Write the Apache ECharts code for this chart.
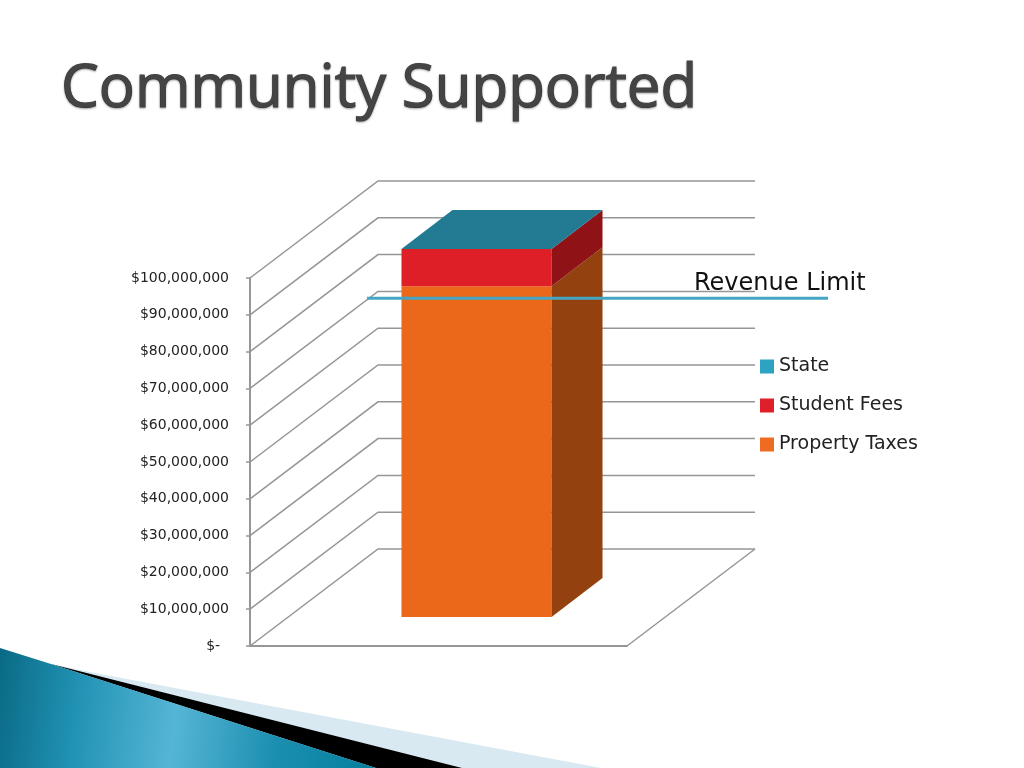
<!DOCTYPE html>
<html>
<head>
<meta charset="utf-8">
<style>html,body{margin:0;padding:0;background:#fff}#c{width:1024px;height:768px}</style>
<script src="https://cdn.jsdelivr.net/npm/echarts@6/dist/echarts.min.js"></script>
</head>
<body>
<div id="c"></div>
<script>
var titleText = 'Community Supported';
var categories = ['Budget'];
var tickValues = [0, 10000000, 20000000, 30000000, 40000000, 50000000, 60000000, 70000000, 80000000, 90000000, 100000000];
var tickLabels = ['$-\u00a0\u00a0', '$10,000,000', '$20,000,000', '$30,000,000', '$40,000,000', '$50,000,000', '$60,000,000', '$70,000,000', '$80,000,000', '$90,000,000', '$100,000,000'];
var seriesNames = ['Property Taxes', 'Student Fees', 'State'];
var propertyTaxes = [89900000];
var studentFees = [10100000];
var state = [0];
var revenueLimitLabel = 'Revenue Limit';
var revenueLimit = [94500000];

var WALL = [128, -97];
var BAR_OFFSET = [38, -29];
var BAR_DEPTH = [51, -39];
var GRID_COLOR = '#969696';
var FACES = {
  'Property Taxes': { legend: '#EE6B22', front: '#EB671A', side: '#93420F' },
  'Student Fees': { legend: '#E02028', front: '#DE1F27', side: '#8E1216' },
  'State': { legend: '#2DA3C1', front: '#2DA3C1', side: '#1F6F85', top: '#237B93' }
};

function wallRender(params, api) {
  var cs = params.coordSys;
  var y = api.coord([0, api.value(0)])[1];
  var x0 = cs.x, x1 = cs.x + cs.width;
  var children = [{
    type: 'polyline',
    shape: { points: [[x0, y], [x0 + WALL[0], y + WALL[1]], [x1 + WALL[0], y + WALL[1]]] },
    style: { stroke: GRID_COLOR, lineWidth: 1.5, fill: null }
  }];
  if (api.value(0) === 0) {
    children.push({
      type: 'polyline',
      shape: { points: [[x1, y], [x1 + WALL[0], y + WALL[1]]] },
      style: { stroke: GRID_COLOR, lineWidth: 1.5, fill: null }
    });
  }
  return { type: 'group', children: children };
}

function segmentRender(name) {
  var f = FACES[name];
  return function (params, api) {
    var w = api.size([1, 0])[0] * 0.398;
    var cx = api.coord([api.value(0), 0])[0];
    var x0 = cx - w / 2 + BAR_OFFSET[0], x1 = cx + w / 2 + BAR_OFFSET[0];
    var yb = api.coord([0, api.value(1)])[1] + BAR_OFFSET[1];
    var yt = api.coord([0, api.value(2)])[1] + BAR_OFFSET[1];
    var dx = BAR_DEPTH[0], dy = BAR_DEPTH[1];
    var ch = [];
    if (yb - yt > 0) {
      ch.push({ type: 'polygon', shape: { points: [[x0, yb], [x1, yb], [x1, yt], [x0, yt]] }, style: { fill: f.front } });
      ch.push({ type: 'polygon', shape: { points: [[x1, yb], [x1 + dx, yb + dy], [x1 + dx, yt + dy], [x1, yt]] }, style: { fill: f.side } });
    }
    if (f.top) {
      ch.push({ type: 'polygon', shape: { points: [[x0, yt], [x1, yt], [x1 + dx, yt + dy], [x0 + dx, yt + dy]] }, style: { fill: f.top } });
    }
    return { type: 'group', children: ch };
  };
}

function limitRender(params, api) {
  var y = api.coord([0, api.value(0)])[1];
  return {
    type: 'group',
    children: [
      { type: 'line', shape: { x1: 367, y1: y, x2: 828, y2: y }, style: { stroke: '#45A6C3', lineWidth: 3 } },
      { type: 'text', x: 694, y: y - 2, style: { text: revenueLimitLabel, fill: '#111', font: '24px "DejaVu Sans"', textAlign: 'left', textVerticalAlign: 'bottom' } }
    ]
  };
}

function stackRows(values, bases) {
  return values.map(function (v, i) { return [categories[i], bases[i], bases[i] + v]; });
}
var zeros = categories.map(function () { return 0; });
var s1 = propertyTaxes.map(function (v, i) { return v + zeros[i]; });
var s2 = studentFees.map(function (v, i) { return v + s1[i]; });

var segData = { 'Property Taxes': stackRows(propertyTaxes, zeros), 'Student Fees': stackRows(studentFees, s1), 'State': stackRows(state, s2) };

var series = [{
  type: 'custom', name: 'walls', silent: true, clip: false, z: 1,
  coordinateSystem: 'cartesian2d', renderItem: wallRender,
  data: tickValues.map(function (v) { return [v]; }), encode: { y: 0 }
}];
seriesNames.forEach(function (n) {
  series.push({
    type: 'custom', name: n, clip: false, z: 3, coordinateSystem: 'cartesian2d',
    itemStyle: { color: FACES[n].legend }, renderItem: segmentRender(n),
    data: segData[n], encode: { x: 0, y: [1, 2] }
  });
});
series.push({
  type: 'custom', name: revenueLimitLabel, silent: true, clip: false, z: 5, coordinateSystem: 'cartesian2d',
  renderItem: limitRender, data: revenueLimit.map(function (v) { return [v]; }), encode: { y: 0 }
});

var chart = echarts.init(document.getElementById('c'), null, { renderer: 'canvas' });
chart.setOption({
  animation: false,
  backgroundColor: '#fff',
  title: {
    text: titleText, left: 56, top: 55,
    textStyle: { fontFamily: '"Open Sans"', fontSize: 60, fontWeight: 'normal', color: '#444',
      textBorderColor: '#444', textBorderWidth: 1.2,
      textShadowColor: 'rgba(0,0,0,0.3)', textShadowBlur: 2, textShadowOffsetY: 1 }
  },
  legend: {
    orient: 'vertical', left: 755, top: 352, icon: 'rect', itemWidth: 14, itemHeight: 14, itemGap: 20, itemStyle: {},
    data: ['State', 'Student Fees', 'Property Taxes'],
    textStyle: { fontFamily: '"DejaVu Sans"', fontSize: 19, color: '#222' },
    selectedMode: false
  },
  grid: { left: 250, top: 278, width: 377, height: 368, containLabel: false },
  xAxis: {
    type: 'category', data: categories,
    axisLine: { show: true, lineStyle: { color: GRID_COLOR, width: 2 } },
    axisTick: { show: false }, axisLabel: { show: false }, splitLine: { show: false }
  },
  yAxis: {
    type: 'value', min: 0, max: 100000000, interval: 10000000,
    axisLine: { show: true, lineStyle: { color: GRID_COLOR, width: 2 } },
    axisTick: { show: true, length: 4, lineStyle: { color: GRID_COLOR, width: 1.5 } },
    splitLine: { show: false },
    axisLabel: {
      margin: 21, color: '#222', fontFamily: '"DejaVu Sans"', fontSize: 14,
      formatter: function (v) { return tickLabels[tickValues.indexOf(v)]; }
    }
  },
  graphic: [
    { type: 'polygon', z: -1, shape: { points: [[51, 664], [95, 673], [601, 768], [300, 768]] }, style: { fill: '#D8E9F1' } },
    { type: 'polygon', z: -1, shape: { points: [[51, 664], [462, 768], [376, 768]] }, style: { fill: '#000' } },
    { type: 'polygon', z: -1, shape: { points: [[0, 648], [51, 664], [376, 768], [0, 768]] },
      style: { fill: new echarts.graphic.LinearGradient(0, 0, 1, 0.35, [
        { offset: 0, color: '#0A6A85' }, { offset: 0.22, color: '#2193B4' }, { offset: 0.48, color: '#56B5D5' }, { offset: 0.75, color: '#1C8FB0' }, { offset: 1, color: '#07809F' }
      ]) } }
  ],
  series: series
});
</script>
</body>
</html>
